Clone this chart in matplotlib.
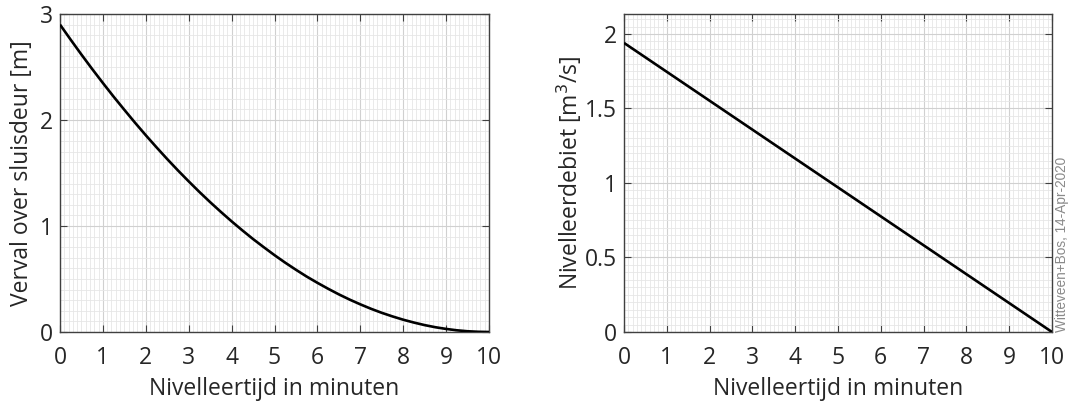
import matplotlib
matplotlib.use("Agg")
import matplotlib.pyplot as plt
from matplotlib.ticker import MultipleLocator

# Data
tijd_verval = [0, 0.25, 0.5, 0.75, 1, 1.25, 1.5, 1.75, 2, 2.25, 2.5, 2.75, 3, 3.25, 3.5, 3.75,
               4, 4.25, 4.5, 4.75, 5, 5.25, 5.5, 5.75, 6, 6.25, 6.5, 6.75, 7, 7.25, 7.5, 7.75,
               8, 8.25, 8.5, 8.75, 9, 9.25, 9.5, 9.75, 10]
verval = [2.9, 2.757, 2.617, 2.481, 2.349, 2.220, 2.096, 1.974, 1.856, 1.742, 1.631, 1.524,
          1.421, 1.321, 1.225, 1.133, 1.044, 0.959, 0.877, 0.800, 0.725, 0.654, 0.587, 0.523,
          0.464, 0.408, 0.355, 0.306, 0.261, 0.219, 0.181, 0.147, 0.116, 0.089, 0.065, 0.045,
          0.029, 0.016, 0.007, 0.002, 0.0]
tijd_debiet = [0, 10]
debiet = [1.94, 0.0]

x_ticks = list(range(0, 11))
left_yticks = [0, 1, 2, 3]
right_yticks = [0, 0.5, 1, 1.5, 2]
right_yticklabels = ["0", "0.5", "1", "1.5", "2"]

plt.rcParams['font.family'] = ['Open Sans', 'DejaVu Sans']
TXT = '#262626'
AX = '#404040'
FS = 16.5

fig = plt.figure(figsize=(10.69, 4.08), dpi=100)
ax1 = fig.add_axes([60/1069, 76/408, 429/1069, 318/408])
ax2 = fig.add_axes([624/1069, 76/408, 428/1069, 318/408])

def style(ax, yminor):
    ax.set_xlim(0, 10)
    ax.set_xticks(x_ticks)
    ax.xaxis.set_minor_locator(MultipleLocator(0.1))
    ax.yaxis.set_minor_locator(MultipleLocator(yminor))
    ax.grid(which='minor', color='#e6e6e6', lw=0.6, ls='-')
    ax.grid(which='major', color='#d0d0d0', lw=0.8, ls='-')
    ax.set_axisbelow(True)
    ax.tick_params(which='major', direction='in', length=5, width=0.8, color=AX,
                   top=True, right=True, labelsize=FS, labelcolor=TXT, pad=5)
    ax.tick_params(axis='x', which='major', pad=10)
    ax.tick_params(which='minor', length=0)
    for s in ax.spines.values():
        s.set_color(AX)
        s.set_linewidth(1.0)
    ax.set_xlabel('Nivelleertijd in minuten', fontsize=FS, color=TXT, labelpad=5)

ax1.plot(tijd_verval, verval, color='black', lw=1.9, solid_capstyle='butt', zorder=3)
ax1.set_ylim(0, 3)
ax1.set_yticks(left_yticks)
style(ax1, 0.1)
ax1.set_ylabel('Verval over sluisdeur [m]', fontsize=FS, color=TXT, labelpad=4)

ax2.plot(tijd_debiet, debiet, color='black', lw=1.9, solid_capstyle='butt', zorder=3)
ax2.set_ylim(0, 2.134)
ax2.set_yticks(right_yticks)
ax2.set_yticklabels(right_yticklabels)
style(ax2, 0.05)
ax2.set_ylabel('Nivelleerdebiet [m$^3$/s]', fontsize=FS, color=TXT, labelpad=1)

fig.text(1062/1069, (408-332)/408, 'Witteveen+Bos, 14-Apr-2020', rotation=90,
         fontsize=9.8, color='#8a8a8a', ha='center', va='bottom',
         family=['Liberation Sans', 'DejaVu Sans'])

fig.savefig('out.png', dpi=100)
